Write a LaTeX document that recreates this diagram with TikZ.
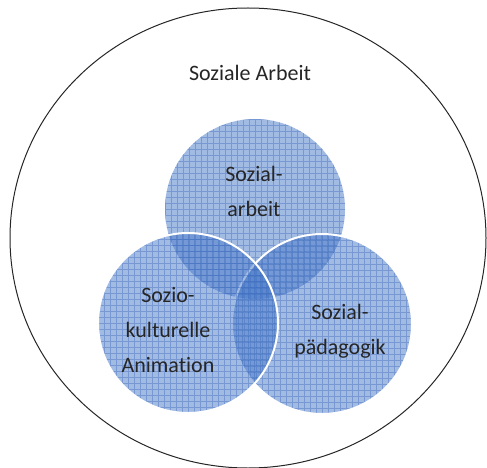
\documentclass[tikz,border=0pt]{standalone}
\usepackage{fontspec}
\setmainfont{Carlito}[Ligatures=NoCommon]
\usetikzlibrary{positioning}
\definecolor{setblue}{RGB}{70,120,200}
\definecolor{gridblue}{RGB}{55,100,185}
\tikzset{
  setgrid/.style={draw=gridblue,draw opacity=0.4,line width=0.7pt},
  setcircle/.style={circle,minimum size=180pt,inner sep=0pt,fill=setblue,fill opacity=0.5,line width=2pt,
    path picture={\draw[setgrid] (path picture bounding box.south west) grid[step=6pt] (path picture bounding box.north east);}},
  setlabel/.style={font=\fontsize{22}{35}\selectfont,align=center,text=black!85},
}
\begin{document}
\begin{tikzpicture}[x=1pt,y=-1pt]
\useasboundingbox (0,0) rectangle (487,468);
\draw[black!85,line width=1pt] (248,238) ellipse [x radius=238,y radius=230];
\node[setlabel] (soziale) at (250,73) {Soziale Arbeit};
% drei Kreise: oben, rechts, links
\foreach \name/\cx/\cy/\bd in {kreisA/255/209/none,kreisB/322/324/white,kreisC/188/323/white}
  \node[setcircle,draw=\bd] (\name) at (\cx,\cy) {};
\node[setlabel] (arbeit) at (254,191) {Sozial-\\arbeit};
\node[setlabel] (animation) at (168,330) {Sozio-\\kulturelle\\Animation};
\node[setlabel] (paedagogik) at (340,331) {Sozial-\\pädagogik};
\end{tikzpicture}
\end{document}
